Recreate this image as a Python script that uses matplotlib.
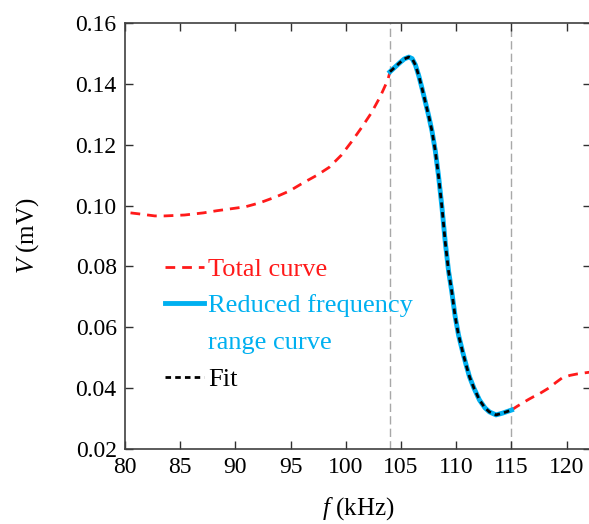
import matplotlib
matplotlib.use("Agg")
import matplotlib.pyplot as plt

# --- data ---
# total curve (red dashed), low-frequency part
total_f_low = [80.5, 81.2, 82.7, 83.6, 85.4, 87.1, 88.3, 89.5, 90.9, 92.2, 93.7, 94.9,
               96.1, 97.4, 98.5, 99.6, 100.5, 101.4, 102.3, 103.1, 103.8, 104.0]
total_v_low = [0.0976, 0.0973, 0.0966, 0.0966, 0.0969, 0.0976, 0.0983, 0.0989, 0.0996,
               0.1009, 0.1029, 0.1048, 0.1074, 0.1100, 0.1126, 0.1166, 0.1209, 0.1255,
               0.1304, 0.1357, 0.1413, 0.1440]
# total curve, high-frequency part
total_f_high = [115.0, 115.5, 116.0, 116.5, 117.0, 117.5, 118.0, 118.5, 119.0, 119.6,
                120.3, 121.0, 122.0, 122.5]
total_v_high = [0.0328, 0.0340, 0.0351, 0.0362, 0.0372, 0.0381, 0.0392, 0.0403, 0.0418,
                0.0434, 0.0442, 0.0447, 0.0452, 0.0455]

# reduced frequency range curve (blue) and fit (black dashed)
red_f = [104.0, 104.3, 104.6, 104.9, 105.3, 105.7, 106.0, 106.3, 106.6, 106.9, 107.2,
         107.5, 107.8, 108.1, 108.4, 108.7, 109.0, 109.3, 109.6, 109.9, 110.2, 110.6,
         110.9, 111.2, 111.6, 112.1, 112.6, 113.0, 113.6, 114.2, 114.6, 115.0]
red_v = [0.1440, 0.1450, 0.1460, 0.1470, 0.1482, 0.1488, 0.1483, 0.1462, 0.1427, 0.1385,
         0.1340, 0.1295, 0.1245, 0.1180, 0.1095, 0.0995, 0.0880, 0.0785, 0.0715, 0.0635,
         0.0575, 0.0516, 0.0475, 0.0437, 0.0400, 0.0361, 0.0335, 0.0322, 0.0312, 0.0318,
         0.0323, 0.0328]
fit_f = red_f
fit_v = red_v

range_edges = [104, 115]
x_ticks = [80, 85, 90, 95, 100, 105, 110, 115, 120]
y_ticks = [0.02, 0.04, 0.06, 0.08, 0.10, 0.12, 0.14, 0.16]

# --- style ---
plt.rcParams['font.family'] = ['Liberation Serif', 'DejaVu Serif']
plt.rcParams['mathtext.fontset'] = 'custom'
plt.rcParams['mathtext.rm'] = 'Liberation Serif'
plt.rcParams['mathtext.it'] = 'Liberation Serif:italic'

fig = plt.figure(figsize=(5.89, 5.24), dpi=100)
ax = fig.add_axes([125 / 589, 75 / 524, 466 / 589, 426 / 524])

for xe in range_edges:
    ax.axvline(xe, color='#a8a8a8', linestyle=(0, (6, 3)), linewidth=1.0, zorder=1)

ax.plot(total_f_low, total_v_low, color='#ff1a1a', linestyle=(0, (3.5, 2.5)),
        linewidth=2.0, label='Total curve', zorder=2)
ax.plot(total_f_high, total_v_high, color='#ff1a1a', linestyle=(0, (3.5, 2.5)),
        linewidth=2.0, zorder=2)
ax.plot(red_f, red_v, color='#00b0f0', linewidth=3.5,
        label='Reduced frequency', zorder=3)
# second line of the blue label, handle hidden so the line sits next to the first row
ax.plot([], [], color='#00b0f0', linestyle='none', label='range curve')
ax.plot(fit_f, fit_v, color='black', linestyle=(0, (2, 1.5)), linewidth=2.0,
        label='Fit', zorder=4)

ax.set_xlim(80, 122.2)
ax.set_ylim(0.02, 0.16)
ax.set_xticks(x_ticks)
ax.set_yticks(y_ticks)
ax.set_yticklabels([f"{v:.2f}" for v in y_ticks])
ax.tick_params(direction='in', length=6, width=1.0, top=True, right=True,
               labelsize=17, colors='#303030', labelcolor='black', pad=6)
for sp in ax.spines.values():
    sp.set_color('#404040')
    sp.set_linewidth(1.2)

ax.set_xlabel(r'$f$ (kHz)', fontsize=18, labelpad=12)
ax.set_ylabel(r'$V$ (mV)', fontsize=18, labelpad=25)

leg = ax.legend(loc='upper left', bbox_to_anchor=(0.085, 0.45), frameon=False,
                fontsize=19, handlelength=1.5, handletextpad=0.15, labelspacing=0.5,
                borderpad=0, borderaxespad=0, labelcolor='linecolor')

fig.savefig('out.png', dpi=100)
